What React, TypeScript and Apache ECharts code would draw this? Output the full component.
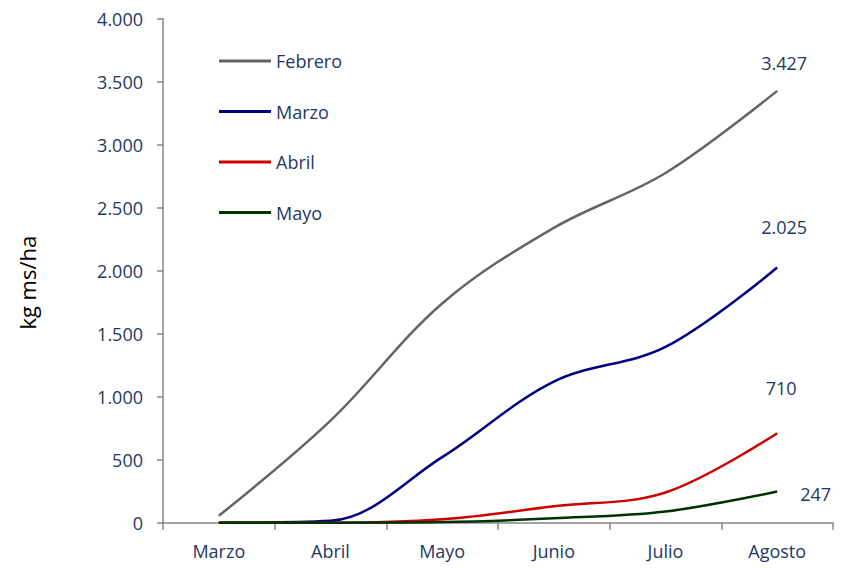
import React, { useEffect, useRef } from "react";
import * as echarts from "echarts";

const categories = ["Marzo", "Abril", "Mayo", "Junio", "Julio", "Agosto"];
const febrero = [55, 810, 1740, 2340, 2775, 3427];
const marzo = [0, 15, 520, 1120, 1395, 2025];
const abril = [0, 0, 27, 130, 240, 710];
const mayo = [0, 0, 5, 35, 88, 247];
const yTicks = [0, 500, 1000, 1500, 2000, 2500, 3000, 3500, 4000];

const FONT = "Open Sans";
const TEXT = "#1F3864";
const fmt = (v: number) => String(Math.round(v)).replace(/\B(?=(\d{3})+(?!\d))/g, ".");

function withEndLabel(values: number[], label: any) {
  return values.map((v, i) =>
    i === values.length - 1 ? { value: v, label: { show: true, ...label } } : v
  );
}

export default function App() {
  const ref = useRef<HTMLDivElement>(null);
  useEffect(() => {
    const chart = echarts.init(ref.current!, null, { renderer: "svg" });
    const labelBase = {
      color: TEXT,
      fontFamily: FONT,
      fontSize: 18,
      formatter: (p: any) => fmt(p.value),
    };
    const mk = (name: string, data: number[], color: string, label: any) => ({
      name,
      type: "line",
      data: withEndLabel(data, { ...labelBase, ...label }),
      smooth: 0.35,
      showSymbol: true,
      symbol: "circle",
      symbolSize: 0,
      lineStyle: { color, width: 2.5 },
      itemStyle: { color },
      label: { show: false },
    });
    chart.setOption({
      animation: false,
      textStyle: { fontFamily: FONT },
      grid: { left: 163, right: 8, top: 18.7, bottom: 45.3, containLabel: false },
      legend: {
        orient: "vertical",
        left: 214,
        top: 47,
        itemWidth: 52,
        itemHeight: 3,
        itemGap: 32.5,
        icon: "rect",
        textStyle: { color: TEXT, fontFamily: FONT, fontSize: 18 },
        data: ["Febrero", "Marzo", "Abril", "Mayo"],
      },
      xAxis: {
        type: "category",
        data: categories,
        boundaryGap: true,
        axisLine: { lineStyle: { color: "#868686", width: 1.5 } },
        axisTick: { show: true, length: 7, lineStyle: { color: "#868686", width: 1.5 } },
        axisLabel: { color: TEXT, fontFamily: FONT, fontSize: 18, margin: 19 },
      },
      yAxis: {
        type: "value",
        min: yTicks[0],
        max: yTicks[yTicks.length - 1],
        interval: 500,
        name: "kg ms/ha",
        nameLocation: "middle",
        nameGap: 125,
        nameTextStyle: { color: "#000", fontFamily: FONT, fontSize: 22, padding: [0, 24, 0, 0] },
        splitLine: { show: false },
        axisLine: { show: true, lineStyle: { color: "#868686", width: 1.5 } },
        axisTick: { show: true, length: 6, lineStyle: { color: "#868686", width: 1.5 } },
        axisLabel: { color: TEXT, fontFamily: FONT, fontSize: 18, margin: 20, formatter: (v: number) => fmt(v) },
      },
      series: [
        mk("Febrero", febrero, "#646464", { position: "top", offset: [7, -14] }),
        mk("Marzo", marzo, "#000080", { position: "top", offset: [7, -27] }),
        mk("Abril", abril, "#CC0000", { position: "top", offset: [4, -31] }),
        mk("Mayo", mayo, "#003300", { position: "right", distance: 23, offset: [0, 2] }),
      ],
    });
    return () => chart.dispose();
  }, []);
  return (
    <div
      ref={ref}
      style={{ position: "fixed", left: 0, top: 0, width: 841, height: 568, background: "#fff" }}
    />
  );
}
